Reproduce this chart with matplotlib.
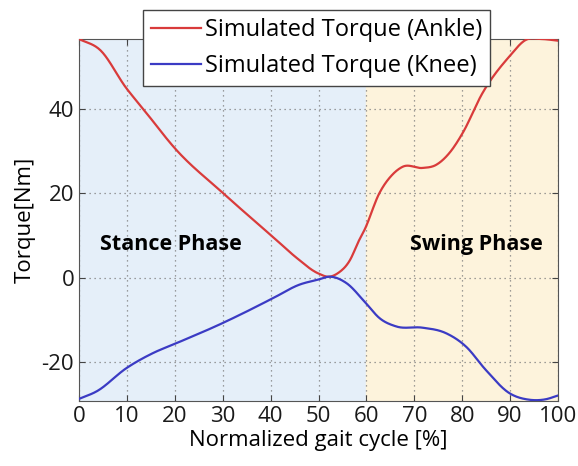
import numpy as np
import matplotlib
matplotlib.use('Agg')
import matplotlib.pyplot as plt

# values
ankle_x = [0, 4.4, 9.9, 13.4, 20.3, 30, 41.2, 45.5, 49.9, 52.3, 54, 56.5, 58.5, 59.6,
           62.7, 65.5, 67.6, 71.7, 74.5, 77.5, 80.1, 84.2, 89.8, 93.3, 96.5, 100]
ankle_y = [56.6, 54, 44.9, 40, 30.3, 20.1, 8.9, 4.6, 1.0, 0.2, 1.0, 4.0, 8.9, 11.3,
           20, 24.5, 26.3, 26.0, 26.7, 29.8, 34.3, 43.7, 52.4, 56.4, 56.6, 56.2]
knee_x = [0, 3.7, 9.9, 15.5, 20.3, 30, 33.5, 40.5, 46, 49.9, 52.3, 55.8, 59.9, 62.7,
          66.2, 71.7, 76.6, 80.8, 84.9, 89.8, 94, 97.4, 100]
knee_y = [-28.8, -27, -21.5, -17.9, -15.6, -10.8, -8.9, -4.9, -1.7, -0.5, 0.2, -1.3,
          -6.1, -9.6, -11.6, -11.9, -13.2, -16.4, -21.9, -27.4, -29, -28.9, -28]
x_ticks = [0, 10, 20, 30, 40, 50, 60, 70, 80, 90, 100]
y_ticks = [-20, 0, 20, 40]
stance_end = 60

plt.rcParams['font.family'] = ['Open Sans', 'DejaVu Sans']
plt.rcParams['axes.unicode_minus'] = False

def smooth(xs, ys):
    # densify the read points with a plain cubic through neighbours
    xs = np.array(xs, float)
    ys = np.array(ys, float)
    xf = np.linspace(xs[0], xs[-1], 600)
    m = np.gradient(ys, xs)
    yf = np.empty_like(xf)
    for k, x in enumerate(xf):
        i = min(np.searchsorted(xs, x, side='right') - 1, len(xs) - 2)
        h = xs[i + 1] - xs[i]
        t = (x - xs[i]) / h
        h00 = 2*t**3 - 3*t**2 + 1
        h10 = t**3 - 2*t**2 + t
        h01 = -2*t**3 + 3*t**2
        h11 = t**3 - t**2
        yf[k] = h00*ys[i] + h10*h*m[i] + h01*ys[i+1] + h11*h*m[i+1]
    return xf, yf

fig = plt.figure(figsize=(5.78, 4.66), dpi=100)
ax = fig.add_axes([0.1367, 0.1395, 0.8287, 0.7768])

ax.axvspan(0, stance_end, color='#e5eff9', zorder=0)
ax.axvspan(stance_end, 100, color='#fdf3dc', zorder=0)

ax.plot(*smooth(ankle_x, ankle_y), color='#d93b3b', lw=1.6, label='Simulated Torque (Ankle)', zorder=3)
ax.plot(*smooth(knee_x, knee_y), color='#3b3bc4', lw=1.6, label='Simulated Torque (Knee)', zorder=3)

ax.set_xlim(0, 100)
ax.set_ylim(-29.3, 56.6)
ax.set_xticks(x_ticks)
ax.set_yticks(y_ticks)
ax.grid(True, linestyle=(0, (1, 3)), color='#808080', lw=0.9)
ax.tick_params(direction='in', top=True, right=True, labelsize=16, length=4, colors='#444444', labelcolor='#1a1a1a')
for s in ax.spines.values():
    s.set_color('#555555')

ax.set_xlabel('Normalized gait cycle [%]', fontsize=16, labelpad=2)
ax.set_ylabel('Torque[Nm]', fontsize=16, labelpad=4)

ax.text(19.2, 7.8, 'Stance Phase', fontsize=15.5, fontweight='bold', va='center', ha='center')
ax.text(82.9, 7.8, 'Swing Phase', fontsize=15.5, fontweight='bold', va='center', ha='center')

leg = ax.legend(loc='upper left', bbox_to_anchor=(0.134, 1.08), borderaxespad=0, fontsize=17,
                fancybox=False, framealpha=1, edgecolor='#444444', handlelength=2.1,
                handletextpad=0.15, borderpad=0.35, labelspacing=0.5)
leg.get_frame().set_linewidth(1.0)

fig.savefig('out.png', dpi=100)
